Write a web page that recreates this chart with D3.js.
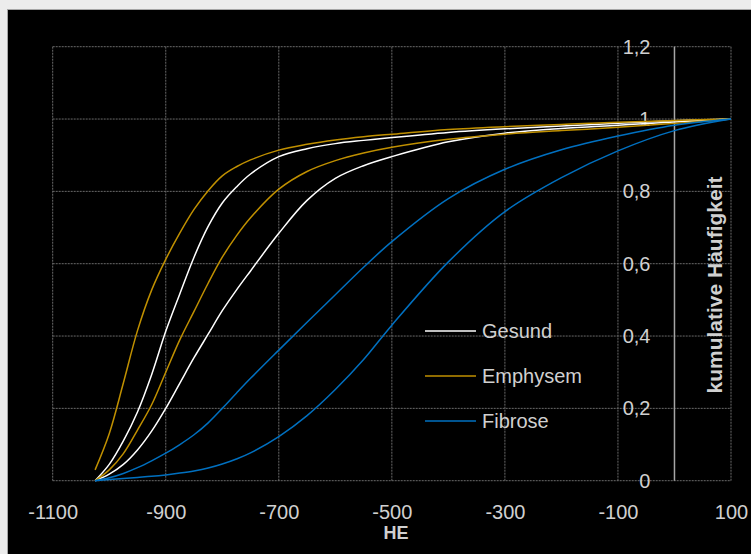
<!DOCTYPE html>
<html>
<head>
<meta charset="utf-8">
<script src="https://cdn.jsdelivr.net/npm/d3@7"></script>
<style>
  body { margin: 0; background: #ececec; }
  svg { display: block; }
</style>
</head>
<body>
<div id="chart"></div>
<script>
// HE sample positions shared by all curves
var heValues = [-1025, -1000, -975, -950, -925, -900, -875, -850, -825, -800, -775, -750, -700, -650, -600, -550, -500, -400, -300, -200, -100, 0, 100];

// cumulative frequency, two curves per group
var gesund1    = [0, 0.045, 0.11, 0.19, 0.293, 0.413, 0.517, 0.618, 0.703, 0.768, 0.812, 0.848, 0.896, 0.918, 0.932, 0.941, 0.949, 0.963, 0.973, 0.981, 0.988, 0.995, 1];
var gesund2    = [0, 0.018, 0.045, 0.085, 0.137, 0.2, 0.27, 0.34, 0.405, 0.47, 0.527, 0.58, 0.684, 0.775, 0.836, 0.871, 0.896, 0.937, 0.961, 0.974, 0.983, 0.992, 1];
var emphysem1  = [0.03, 0.13, 0.27, 0.415, 0.527, 0.612, 0.685, 0.75, 0.802, 0.843, 0.868, 0.887, 0.914, 0.93, 0.942, 0.951, 0.958, 0.971, 0.979, 0.985, 0.991, 0.996, 1];
var emphysem2  = [0, 0.03, 0.075, 0.14, 0.21, 0.30, 0.39, 0.468, 0.546, 0.618, 0.677, 0.727, 0.806, 0.855, 0.885, 0.906, 0.922, 0.944, 0.958, 0.968, 0.977, 0.988, 1];
var fibrose1   = [0, 0.008, 0.02, 0.036, 0.055, 0.076, 0.1, 0.127, 0.16, 0.2, 0.242, 0.283, 0.361, 0.438, 0.514, 0.59, 0.661, 0.78, 0.861, 0.915, 0.953, 0.983, 1];
var fibrose2   = [0, 0.003, 0.006, 0.009, 0.012, 0.016, 0.021, 0.027, 0.035, 0.046, 0.06, 0.077, 0.122, 0.18, 0.252, 0.335, 0.43, 0.605, 0.744, 0.838, 0.912, 0.968, 1];

var groups = ["Gesund", "Emphysem", "Fibrose"];
var groupColors = ["#ffffff", "#c09000", "#0070c0"];
var seriesList = [
  {group: "Gesund", values: gesund1},
  {group: "Gesund", values: gesund2},
  {group: "Emphysem", values: emphysem1},
  {group: "Emphysem", values: emphysem2},
  {group: "Fibrose", values: fibrose1},
  {group: "Fibrose", values: fibrose2}
];

var xTicks = [-1100, -900, -700, -500, -300, -100, 100];
var yTicks = [0, 0.2, 0.4, 0.6, 0.8, 1, 1.2];

var width = 751, height = 554;
var margin = {left: 52.7, right: 20, top: 46.7, bottom: 73.3};

var svg = d3.select("#chart").append("svg")
  .attr("width", width).attr("height", height)
  .attr("font-family", "'Liberation Sans', Arial, sans-serif");

// outer frame
svg.append("rect")
  .attr("x", 7.5).attr("y", 9.5)
  .attr("width", width).attr("height", height)
  .attr("fill", "#000").attr("stroke", "#a6a6a6");

var x = d3.scaleLinear().domain([-1100, 100]).range([margin.left, width - margin.right]);
var y = d3.scaleLinear().domain([0, 1.2]).range([height - margin.bottom, margin.top]);
var color = d3.scaleOrdinal().domain(groups).range(groupColors);

var de = d3.formatLocale({decimal: ",", thousands: ".", grouping: [3], currency: ["", " €"], minus: "-"});
var fmtY = de.format(".1~f");
var fmtX = de.format("d");

// gridlines
var grid = svg.append("g").attr("stroke", "#6a6a6a").attr("stroke-width", 1).attr("stroke-dasharray", "2,1");
grid.selectAll("line.v").data(xTicks).enter().append("line")
  .attr("x1", d => x(d)).attr("x2", d => x(d))
  .attr("y1", y(0)).attr("y2", y(1.2));
grid.selectAll("line.h").data(yTicks).enter().append("line")
  .attr("y1", d => y(d)).attr("y2", d => y(d))
  .attr("x1", x(-1100)).attr("x2", x(100));

// vertical axis line at HE = 0
svg.append("line")
  .attr("x1", x(0)).attr("x2", x(0))
  .attr("y1", y(0)).attr("y2", y(1.2))
  .attr("stroke", "#a6a6a6").attr("stroke-width", 1.5);

// x axis
var xAxis = svg.append("g")
  .attr("transform", `translate(0,${y(0)})`)
  .call(d3.axisBottom(x).tickValues(xTicks).tickSize(0).tickPadding(24).tickFormat(fmtX));
xAxis.select(".domain").remove();
xAxis.selectAll("text").attr("fill", "#d0d0d0").attr("font-size", 20).attr("font-family", "'Liberation Sans', Arial, sans-serif");

// y axis, sitting on HE = 0
var yAxis = svg.append("g")
  .attr("transform", `translate(${x(0)},0)`)
  .call(d3.axisLeft(y).tickValues(yTicks).tickSize(0).tickPadding(24).tickFormat(fmtY));
yAxis.select(".domain").remove();
yAxis.selectAll("text").attr("fill", "#d0d0d0").attr("font-size", 20).attr("font-family", "'Liberation Sans', Arial, sans-serif");

// curves
var line = d3.line()
  .curve(d3.curveCatmullRom.alpha(0.5))
  .x((d, i) => x(heValues[i]))
  .y(d => y(d));

svg.append("g").attr("fill", "none")
  .selectAll("path").data(seriesList).enter().append("path")
  .attr("d", d => line(d.values))
  .attr("stroke", d => color(d.group))
  .attr("stroke-width", 1.5);

// legend
var legend = svg.append("g").selectAll("g").data(groups).enter().append("g")
  .attr("transform", (d, i) => `translate(425,${331 + i * 45})`);
legend.append("line")
  .attr("x1", 0).attr("x2", 51)
  .attr("stroke", d => color(d)).attr("stroke-width", 1.5);
legend.append("text")
  .attr("x", 57).attr("y", 7)
  .attr("fill", "#d0d0d0").attr("font-size", 20)
  .text(d => d);

// axis titles
svg.append("text")
  .attr("x", 396).attr("y", 539)
  .attr("text-anchor", "middle")
  .attr("font-weight", "bold").attr("font-size", 18)
  .attr("fill", "#d0d0d0")
  .text("HE");

svg.append("text")
  .attr("transform", "translate(722,285) rotate(-90)")
  .attr("text-anchor", "middle")
  .attr("font-weight", "bold").attr("font-size", 21)
  .attr("fill", "#d0d0d0")
  .text("kumulative Häufigkeit");
</script>
</body>
</html>
